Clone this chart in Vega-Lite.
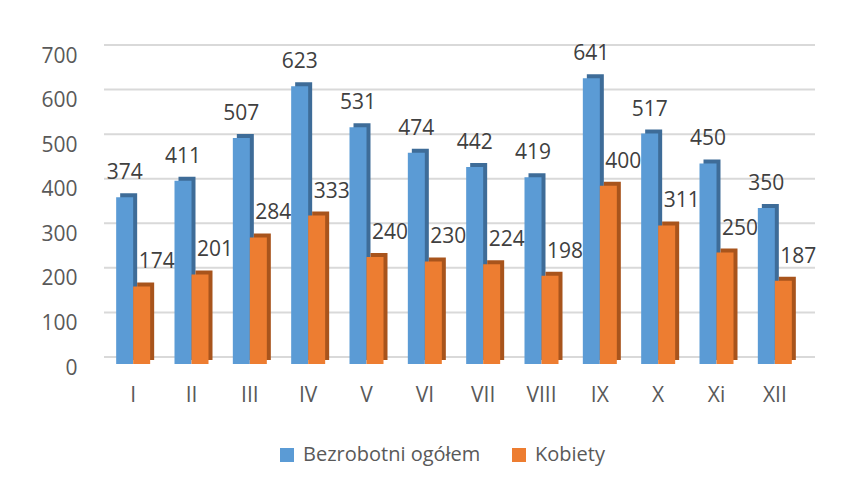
{
  "$schema": "https://vega.github.io/schema/vega-lite/v6.json",
  "width": 700,
  "height": 312,
  "autosize": {"type": "none"},
  "padding": {"left": 104, "top": 52, "right": 52, "bottom": 125},
  "background": "white",
  "config": {
    "view": {"stroke": null},
    "font": "Open Sans",
    "text": {"font": "Open Sans"}
  },
  "datasets": {
    "bars": [
      {"month": "I", "series": "Bezrobotni ogółem", "value": 374},
      {"month": "II", "series": "Bezrobotni ogółem", "value": 411},
      {"month": "III", "series": "Bezrobotni ogółem", "value": 507},
      {"month": "IV", "series": "Bezrobotni ogółem", "value": 623},
      {"month": "V", "series": "Bezrobotni ogółem", "value": 531},
      {"month": "VI", "series": "Bezrobotni ogółem", "value": 474},
      {"month": "VII", "series": "Bezrobotni ogółem", "value": 442},
      {"month": "VIII", "series": "Bezrobotni ogółem", "value": 419},
      {"month": "IX", "series": "Bezrobotni ogółem", "value": 641},
      {"month": "X", "series": "Bezrobotni ogółem", "value": 517},
      {"month": "Xi", "series": "Bezrobotni ogółem", "value": 450},
      {"month": "XII", "series": "Bezrobotni ogółem", "value": 350},
      {"month": "I", "series": "Kobiety", "value": 174},
      {"month": "II", "series": "Kobiety", "value": 201},
      {"month": "III", "series": "Kobiety", "value": 284},
      {"month": "IV", "series": "Kobiety", "value": 333},
      {"month": "V", "series": "Kobiety", "value": 240},
      {"month": "VI", "series": "Kobiety", "value": 230},
      {"month": "VII", "series": "Kobiety", "value": 224},
      {"month": "VIII", "series": "Kobiety", "value": 198},
      {"month": "IX", "series": "Kobiety", "value": 400},
      {"month": "X", "series": "Kobiety", "value": 311},
      {"month": "Xi", "series": "Kobiety", "value": 250},
      {"month": "XII", "series": "Kobiety", "value": 187}
    ],
    "grid": [
      {"g": 0}, {"g": 100}, {"g": 200}, {"g": 300}, {"g": 400}, {"g": 500}, {"g": 600}, {"g": 700}
    ]
  },
  "encoding": {
    "x": {
      "field": "month",
      "type": "nominal",
      "sort": ["I","II","III","IV","V","VI","VII","VIII","IX","X","Xi","XII"],
      "scale": {"paddingInner": 0, "paddingOuter": 0},
      "axis": {
        "title": null, "domain": false, "ticks": false, "grid": false,
        "labelAngle": 0, "labelFontSize": 21, "labelColor": "#595959",
        "labelPadding": 20, "labelFont": "Open Sans"
      }
    },
    "y": {
      "field": "value",
      "type": "quantitative",
      "scale": {"domain": [0, 700], "nice": false},
      "axis": {
        "title": null, "domain": false, "ticks": false, "grid": false,
        "values": [0,100,200,300,400,500,600,700],
        "labelFontSize": 21, "labelColor": "#595959", "labelPadding": 27,
        "labelOffset": 4, "labelFont": "Open Sans"
      }
    }
  },
  "layer": [
    {
      "data": {"name": "grid"},
      "mark": {"type": "rule", "color": "#d9d9d9", "strokeWidth": 2, "xOffset": 11, "x2Offset": 9, "yOffset": -7},
      "encoding": {"y": {"field": "g", "type": "quantitative"}, "x": null}
    },
    {
      "data": {"name": "bars"},
      "transform": [{"filter": "datum.series === 'Bezrobotni ogółem'"}],
      "mark": {"type": "bar", "width": 17, "xOffset": -4.5, "yOffset": -4, "y2Offset": -4, "color": "#3e6c98"},
      "encoding": {}
    },
    {
      "data": {"name": "bars"},
      "transform": [{"filter": "datum.series === 'Bezrobotni ogółem'"}],
      "mark": {"type": "bar", "width": 17, "xOffset": -8.5},
      "encoding": {
        "color": {
          "field": "series", "type": "nominal",
          "scale": {"domain": ["Bezrobotni ogółem", "Kobiety"], "range": ["#5b9bd5", "#ed7d31"]},
          "legend": {
            "title": null, "orient": "none", "direction": "horizontal",
            "legendX": 173, "legendY": 393,
            "symbolType": "square", "symbolSize": 196, "symbolStrokeWidth": 0,
            "labelFontSize": 20, "labelColor": "#595959", "labelFont": "Open Sans",
            "labelOffset": 6, "columnPadding": 28, "labelLimit": 400
          }
        }
      }
    },
    {
      "data": {"name": "bars"},
      "transform": [{"filter": "datum.series === 'Kobiety'"}],
      "mark": {"type": "bar", "width": 17, "xOffset": 12.5, "yOffset": -4, "y2Offset": -4, "color": "#a8541c"},
      "encoding": {}
    },
    {
      "data": {"name": "bars"},
      "transform": [{"filter": "datum.series === 'Kobiety'"}],
      "mark": {"type": "bar", "width": 17, "xOffset": 8.5},
      "encoding": {"color": {"field": "series", "type": "nominal"}}
    },
    {
      "data": {"name": "bars"},
      "transform": [{"filter": "datum.series === 'Bezrobotni ogółem'"}],
      "mark": {"type": "text", "xOffset": -8.5, "dy": -24, "baseline": "middle", "fontSize": 21, "color": "#404040", "font": "Open Sans"},
      "encoding": {"text": {"field": "value", "type": "quantitative"}}
    },
    {
      "data": {"name": "bars"},
      "transform": [{"filter": "datum.series === 'Kobiety'"}],
      "mark": {"type": "text", "xOffset": 23.5, "dy": -24, "baseline": "middle", "fontSize": 21, "color": "#404040", "font": "Open Sans"},
      "encoding": {"text": {"field": "value", "type": "quantitative"}}
    }
  ]
}
